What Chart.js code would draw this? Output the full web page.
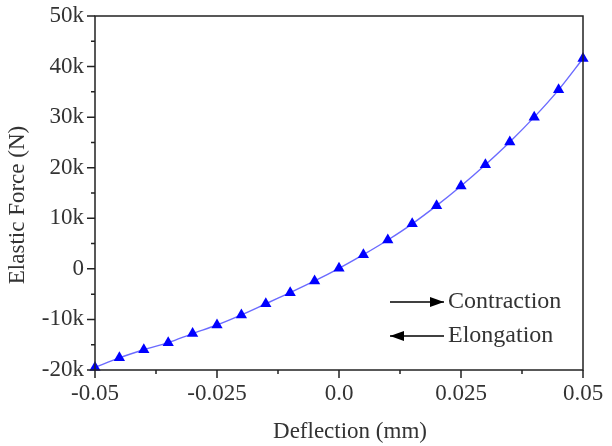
<!DOCTYPE html>
<html>
<head>
<meta charset="utf-8">
<script src="https://cdn.jsdelivr.net/npm/chart.js@4/dist/chart.umd.min.js"></script>
<style>
html,body{margin:0;padding:0;background:#fff;}
#wrap{width:612px;height:446px;position:relative;}
</style>
</head>
<body>
<div id="wrap"><canvas id="c" width="612" height="446"></canvas></div>
<script>
const deflection = [-0.05,-0.045,-0.04,-0.035,-0.03,-0.025,-0.02,-0.015,-0.01,-0.005,0,0.005,0.01,0.015,0.02,0.025,0.03,0.035,0.04,0.045,0.05];
const elasticForce = [-19500,-17600,-16000,-14600,-12800,-11100,-9100,-6900,-4700,-2400,100,2800,5700,8900,12500,16400,20600,25100,30000,35400,41600];
const xTickLabels = {"-0.05":"-0.05","-0.025":"-0.025","0":"0.0","0.025":"0.025","0.05":"0.05"};
const yTickLabels = {"-20000":"-20k","-10000":"-10k","0":"0","10000":"10k","20000":"20k","30000":"30k","40000":"40k","50000":"50k"};
const xMajor = [-0.05,-0.025,0,0.025,0.05];
const xMinor = [-0.0375,-0.0125,0.0125,0.0375];
const yMajor = [-20000,-10000,0,10000,20000,30000,40000,50000];
const yMinor = [-15000,-5000,5000,15000,25000,35000,45000];
const xTitle = "Deflection (mm)";
const yTitle = "Elastic Force (N)";
const notes = [{text:"Contraction",dir:1},{text:"Elongation",dir:-1}];

const FONT = "'Liberation Serif','DejaVu Serif',serif";
const AX = '#222';
const TXT = '#333';

const framePlugin = {
  id:'frame',
  afterDraw(chart){
    const ctx = chart.ctx, a = chart.chartArea;
    const xs = chart.scales.x, ys = chart.scales.y;
    ctx.save();
    ctx.strokeStyle = AX; ctx.lineWidth = 1.5;
    ctx.strokeRect(a.left, a.top, a.right-a.left, a.bottom-a.top);
    ctx.beginPath();
    xMajor.forEach(v=>{const p=xs.getPixelForValue(v); ctx.moveTo(p,a.bottom); ctx.lineTo(p,a.bottom+8);});
    xMinor.forEach(v=>{const p=xs.getPixelForValue(v); ctx.moveTo(p,a.bottom); ctx.lineTo(p,a.bottom+4);});
    yMajor.forEach(v=>{const p=ys.getPixelForValue(v); ctx.moveTo(a.left,p); ctx.lineTo(a.left-8,p);});
    yMinor.forEach(v=>{const p=ys.getPixelForValue(v); ctx.moveTo(a.left,p); ctx.lineTo(a.left-4,p);});
    ctx.stroke();
    // axis titles
    ctx.fillStyle = TXT;
    ctx.font = "23px " + FONT;
    ctx.textAlign = 'center'; ctx.textBaseline = 'middle';
    ctx.fillText(xTitle, (a.left+a.right)/2 + 11, a.bottom + 62);
    ctx.save();
    ctx.translate(18, (a.top+a.bottom)/2 + 12);
    ctx.rotate(-Math.PI/2);
    ctx.fillText(yTitle, 0, 0);
    ctx.restore();
    // annotations
    ctx.strokeStyle = '#000'; ctx.lineWidth = 1.3;
    ctx.font = "24px " + FONT;
    ctx.textBaseline = 'middle'; ctx.textAlign = 'left';
    const x0 = a.left + 295, x1 = a.left + 349;
    notes.forEach((n,i)=>{
      const y = a.top + 286 + i*34;
      ctx.beginPath(); ctx.moveTo(x0,y); ctx.lineTo(x1,y); ctx.stroke();
      const tip = n.dir>0 ? x1 : x0;
      ctx.beginPath();
      ctx.moveTo(tip,y);
      ctx.lineTo(tip - n.dir*14, y-5);
      ctx.lineTo(tip - n.dir*14, y+5);
      ctx.closePath(); ctx.fillStyle='#000'; ctx.fill();
      ctx.fillStyle=TXT;
      ctx.fillText(n.text, x1 + 4, y);
    });
    ctx.restore();
  }
};

new Chart(document.getElementById('c'), {
  type:'scatter',
  data:{
    datasets:[{
      data: deflection.map((x,i)=>({x:x,y:elasticForce[i]})),
      showLine:true,
      borderColor:'rgba(80,80,255,0.85)',
      borderWidth:1.4,
      tension:0.3,
      pointStyle:'triangle',
      pointRadius:6.5,
      pointBackgroundColor:'#0000ff',
      pointBorderColor:'#0000ff',
      pointBorderWidth:0,
      clip:false
    }]
  },
  options:{
    responsive:false,
    animation:false,
    layout:{padding:{top:16,right:29,left:0,bottom:0}},
    plugins:{legend:{display:false},tooltip:{enabled:false}},
    scales:{
      x:{
        type:'linear', min:-0.05, max:0.05,
        afterFit(s){s.height=76; s.paddingLeft=0; s.paddingRight=0;},
        afterBuildTicks(s){s.ticks = xMajor.map(v=>({value:v}));},
        grid:{display:false, drawTicks:false},
        border:{display:false},
        ticks:{padding:10, color:TXT, font:{family:FONT,size:23}, maxRotation:0, autoSkip:false,
          callback:(v)=>xTickLabels[String(+v.toFixed(4))] ?? ''}
      },
      y:{
        type:'linear', min:-20000, max:50000,
        afterFit(s){s.width=95; s.paddingTop=0; s.paddingBottom=0;},
        afterBuildTicks(s){s.ticks = yMajor.map(v=>({value:v}));},
        grid:{display:false, drawTicks:false},
        border:{display:false},
        ticks:{padding:11, color:TXT, font:{family:FONT,size:23}, autoSkip:false,
          callback:(v)=>yTickLabels[String(v)] ?? ''}
      }
    }
  },
  plugins:[framePlugin]
});
</script>
</body>
</html>
